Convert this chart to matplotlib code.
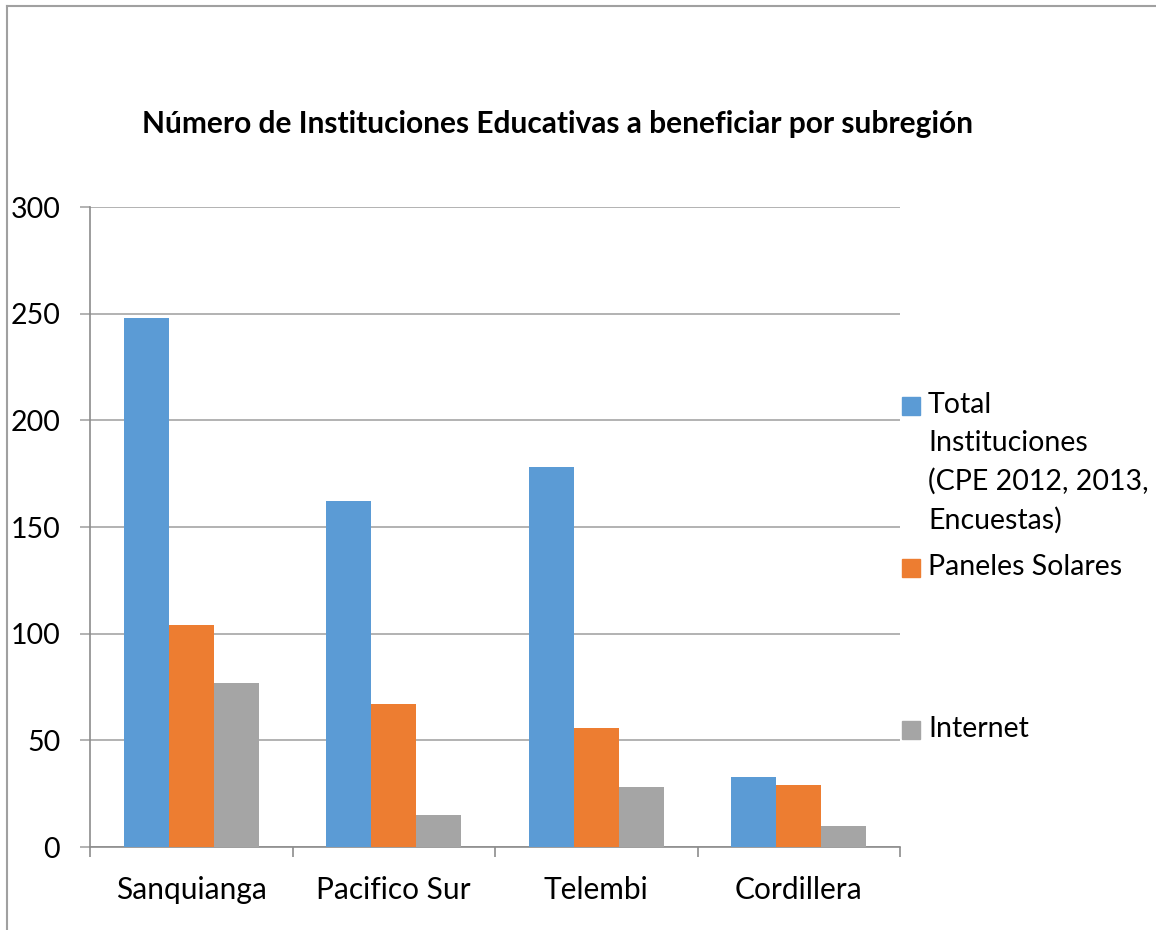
import matplotlib.pyplot as plt
from matplotlib.patches import Rectangle
from matplotlib.lines import Line2D
import numpy as np

plt.rcParams['font.family'] = ['Lato', 'DejaVu Sans']

subregiones = ['Sanquianga', 'Pacifico Sur', 'Telembi', 'Cordillera']
total_inst = [248, 162, 178, 33]
paneles = [104, 67, 56, 29]
internet = [77, 15, 28, 10]
series_nombres = ['Total\nInstituciones\n(CPE 2012, 2013,\nEncuestas)', 'Paneles Solares', 'Internet']
colores = ['#5B9BD5', '#ED7D31', '#A5A5A5']
y_ticks = [0, 50, 100, 150, 200, 250, 300]

fig = plt.figure(figsize=(11.56, 9.30), dpi=100)
ax = fig.add_axes([90/1156, 1-847/930, 810/1156, 640/930])

x = np.arange(len(subregiones))
w = 0.223
for i, vals in enumerate([total_inst, paneles, internet]):
    ax.bar(x + (i-1)*w, vals, w, color=colores[i], zorder=3)

ax.set_xlim(-0.5, 3.5)
ax.set_ylim(0, 300)
ax.set_yticks(y_ticks)
ax.yaxis.grid(True, color='#a6a6a6', linewidth=1.2, zorder=0)
for s in ['top', 'right']:
    ax.spines[s].set_visible(False)
for s in ['left', 'bottom']:
    ax.spines[s].set_color('#8c8c8c')
    ax.spines[s].set_linewidth(1.2)
ax.tick_params(axis='y', length=7.5, width=1.2, color='#a6a6a6', pad=14, labelsize=20.5)
ax.set_xticks(x)
ax.set_xticklabels(subregiones)
ax.tick_params(axis='x', length=0, pad=21, labelsize=21.5)
ax.set_xticks(np.arange(-0.5, 4, 1), minor=True)
ax.tick_params(axis='x', which='minor', length=7, width=1.2, color='#8c8c8c')

fig.text(557/1156, 1-124/930, 'Número de Instituciones Educativas a beneficiar por subregión',
         ha='center', va='center', fontsize=21.5, fontweight='bold')

# legend drawn by hand to keep Excel's spacing
leg_y = [406, 568, 730]
for c, nombre, yy in zip(colores, series_nombres, leg_y):
    fig.patches.append(Rectangle((902/1156, 1-(yy+9)/930), 18/1156, 18/930,
                                 transform=fig.transFigure, color=c))
    fig.text(928/1156, 1-(yy-14)/930, nombre, ha='left', va='top', fontsize=20.5,
             linespacing=1.55)

# chart frame (partly cropped in the original)
fig.lines.append(Line2D([7/1156, 7/1156], [0, 1-6/930], transform=fig.transFigure,
                        color='#a0a0a0', linewidth=1.5))
fig.lines.append(Line2D([7/1156, 1], [1-6/930, 1-6/930], transform=fig.transFigure,
                        color='#a0a0a0', linewidth=1.5))

fig.savefig('out.png', dpi=100)
